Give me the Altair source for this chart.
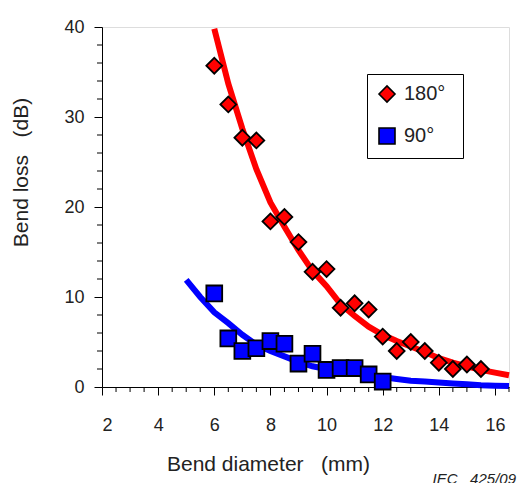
import altair as alt
import pandas as pd

# ---- data ----
series_names = ["180°", "90°"]

red_x = [6.0, 6.5, 7.0, 7.5, 8.0, 8.5, 9.0, 9.5, 10.0, 10.5, 11.0, 11.5, 12.0, 12.5, 13.0, 13.5, 14.0, 14.5, 15.0, 15.5]
red_y = [35.7, 31.4, 27.7, 27.4, 18.4, 18.9, 16.1, 12.8, 13.1, 8.8, 9.3, 8.6, 5.6, 4.0, 5.0, 4.0, 2.7, 2.0, 2.5, 2.0]

blue_x = [6.0, 6.5, 7.0, 7.5, 8.0, 8.5, 9.0, 9.5, 10.0, 10.5, 11.0, 11.5, 12.0]
blue_y = [10.4, 5.4, 4.0, 4.3, 5.1, 4.8, 2.6, 3.7, 1.9, 2.1, 2.1, 1.4, 0.6]

fit_red_x = [6.0, 6.5, 7.0, 7.5, 8.0, 8.5, 9.0, 9.5, 10.0, 10.5, 11.0, 11.5, 12.0, 12.5, 13.0, 13.5, 14.0, 14.5, 15.0, 15.5, 16.0, 16.5]
fit_red_y = [39.8, 33.7, 28.7, 24.2, 20.5, 17.8, 15.2, 12.9, 11.2, 9.2, 7.9, 6.7, 5.8, 5.1, 4.5, 3.9, 3.2, 2.7, 2.3, 1.9, 1.6, 1.3]

fit_blue_x = [5.0, 5.5, 6.0, 6.5, 7.0, 7.5, 8.0, 8.5, 9.0, 9.5, 10.0, 10.5, 11.0, 11.5, 12.0, 12.5, 13.0, 13.5, 14.0, 14.5, 15.0, 15.5, 16.0, 16.5]
fit_blue_y = [11.9, 10.0, 8.3, 7.1, 5.8, 4.7, 4.0, 3.4, 2.8, 2.3, 2.0, 1.7, 1.5, 1.3, 1.1, 0.9, 0.7, 0.6, 0.5, 0.4, 0.3, 0.2, 0.15, 0.1]

x_major = [2, 4, 6, 8, 10, 12, 14, 16]
x_minor = [2.5, 3, 3.5, 4.5, 5, 5.5, 6.5, 7, 7.5, 8.5, 9, 9.5, 10.5, 11, 11.5,
           12.5, 13, 13.5, 14.5, 15, 15.5, 16.5]
y_major = [0, 10, 20, 30, 40]
y_minor = [2, 4, 6, 8, 12, 14, 16, 18, 22, 24, 26, 28, 32, 34, 36, 38]
x_min, y_min = 2, 0   # axis origins

FONT = "Liberation Sans"
NB = "\u00a0"

points = pd.DataFrame(
    {"x": red_x + blue_x,
     "y": red_y + blue_y,
     "series": [series_names[0]] * len(red_x) + [series_names[1]] * len(blue_x)}
)
fit_red = pd.DataFrame({"x": fit_red_x, "y": fit_red_y})
fit_blue = pd.DataFrame({"x": fit_blue_x, "y": fit_blue_y})
xminor_df = pd.DataFrame({"x": x_minor, "y": [y_min] * len(x_minor)})
yminor_df = pd.DataFrame({"y": y_minor, "x": [x_min] * len(y_minor)})

xs = alt.Scale(domain=[2, 16.5], nice=False, zero=False)
ys = alt.Scale(domain=[0, 40], nice=False)

x_axis_major = alt.Axis(
    values=x_major, orient="bottom", tickSize=8, labelFontSize=18, labelFont=FONT,
    labelColor="#222", labelPadding=21, grid=False, domainColor="black", tickColor="black",
    titleFont=FONT, titleFontSize=21,
    titleFontWeight="normal", titleColor="#222", titleX=166, titleY=83,
    titleBaseline="alphabetic", titleAlign="center",
)
y_axis_major = alt.Axis(
    values=y_major, orient="left", tickSize=8, labelFontSize=18, labelFont=FONT,
    labelColor="#222", labelPadding=10, grid=False, domainColor="black", tickColor="black",
    titleFont=FONT, titleFontSize=21,
    titleFontWeight="normal", titleColor="#222", titleX=-75, titleY=145,
    titleBaseline="alphabetic", titleAlign="center", titleAngle=270,
)
X_TITLE = "Bend diameter" + NB * 3 + "(mm)"
Y_TITLE = "Bend loss" + NB * 3 + "(dB)"

red_line = alt.Chart(fit_red).mark_line(color="#ff0000", strokeWidth=6).encode(
    x=alt.X("x:Q", scale=xs, axis=x_axis_major, title=X_TITLE),
    y=alt.Y("y:Q", scale=ys, axis=y_axis_major, title=Y_TITLE),
)
blue_line = alt.Chart(fit_blue).mark_line(color="#0000ff", strokeWidth=6).encode(
    x=alt.X("x:Q", scale=xs, title=X_TITLE),
    y=alt.Y("y:Q", scale=ys, title=Y_TITLE),
)
# minor axis ticks (short, pointing outward)
x_minor_ticks = alt.Chart(xminor_df).mark_tick(
    orient="vertical", size=5, thickness=1, color="black", yOffset=2.5, opacity=1
).encode(
    x=alt.X("x:Q", scale=xs, title=X_TITLE),
    y=alt.Y("y:Q", scale=ys, title=Y_TITLE),
)
y_minor_ticks = alt.Chart(yminor_df).mark_tick(
    orient="horizontal", size=5, thickness=1, color="black", xOffset=-2.5, opacity=1
).encode(
    x=alt.X("x:Q", scale=xs, title=X_TITLE),
    y=alt.Y("y:Q", scale=ys, title=Y_TITLE),
)

legend_def = alt.Legend(title=NB, titleOrient="right", titlePadding=8, titleFontSize=8)
pts = alt.Chart(points).mark_point(filled=True, stroke="black", strokeWidth=1.8,
                                   size=250, opacity=1).encode(
    x=alt.X("x:Q", scale=xs, title=X_TITLE),
    y=alt.Y("y:Q", scale=ys, title=Y_TITLE),
    color=alt.Color("series:N", scale=alt.Scale(domain=series_names, range=["#ff0000", "#0000ff"]),
                    legend=legend_def),
    shape=alt.Shape("series:N", scale=alt.Scale(domain=series_names, range=["diamond", "square"]),
                    legend=legend_def),
)

chart = alt.layer(red_line, blue_line, x_minor_ticks, y_minor_ticks, pts).properties(
    width=407, height=360,
    autosize=alt.AutoSizeParams(type="none"),
    padding={"left": 102, "top": 27, "right": 9, "bottom": 96},
    title=alt.TitleParams(
        "IEC" + NB * 3 + "425/09", orient="bottom", anchor="end", font=FONT, fontSize=15,
        fontStyle="italic", fontWeight="normal", color="#222", dx=-5, dy=-2, offset=0,
    ),
).configure_view(stroke=None).configure(background="white").configure_legend(
    orient="none", legendX=265, legendY=47, padding=10, rowPadding=18,
    strokeColor="black", fillColor="white", labelFont=FONT, labelFontSize=20,
    labelColor="#222", labelOffset=7, symbolSize=256, symbolStrokeColor="black",
    symbolStrokeWidth=1.6,
)

chart.save("out.html", embed_options={"renderer": "svg", "actions": False})
